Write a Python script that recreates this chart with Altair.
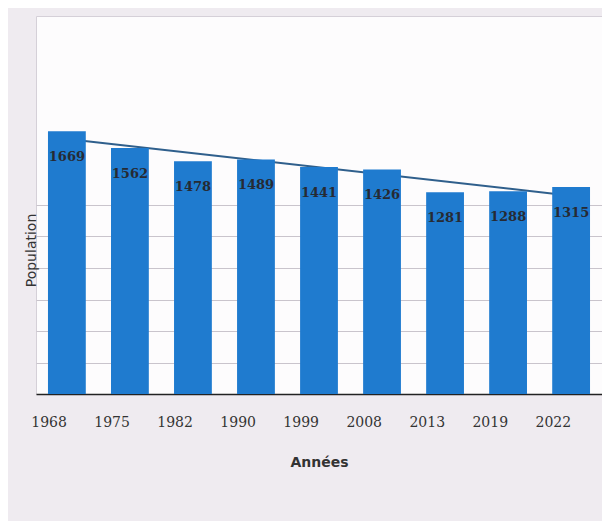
import altair as alt
import pandas as pd

years = ["1968", "1975", "1982", "1990", "1999", "2008", "2013", "2019", "2022"]
population = [1669, 1562, 1478, 1489, 1441, 1426, 1281, 1288, 1315]
grid_values = [200, 400, 600, 800, 1000, 1200]

df = pd.DataFrame({"year": years, "pop": population, "idx": list(range(1, len(years) + 1))})

sans = "DejaVu Sans"
serif = "DejaVu Serif"
xscale = alt.Scale(paddingInner=0.4, paddingOuter=0.19)
xenc = alt.X("year:N", sort=years, scale=xscale,
             axis=alt.Axis(title="Années", labelAngle=0, ticks=False, domainColor="#222",
                           domainWidth=1.5, labelPadding=28, labelFontSize=14,
                           labelColor="#333", labelFont=serif, titleFont=sans,
                           titleFontSize=14, titleFontWeight="bold", titleColor="#333",
                           titlePadding=26))
yscale = alt.Scale(domain=[0, 2400], nice=False)

year_expr = "[" + ",".join("'%s'" % y for y in years) + "][datum.idx - 1]"

trend = alt.Chart(df).transform_regression(
    "idx", "pop", method="linear", extent=[1, len(years)]
).transform_calculate(
    year=year_expr
).mark_line(color="#2f5f8c", strokeWidth=2).encode(
    x=alt.X("year:N", sort=years, scale=xscale),
    y=alt.Y("pop:Q", scale=yscale),
)

bars = alt.Chart(df).mark_bar(color="#1f7bcf").encode(
    x=xenc,
    y=alt.Y("pop:Q", scale=yscale,
            axis=alt.Axis(title="Population", labels=False, ticks=False, domain=False,
                          values=grid_values, grid=True, gridColor="#c9c4cc",
                          gridWidth=1, titleFont=sans, titleFontSize=14,
                          titleColor="#333", titleFontWeight="normal",
                          titleX=-5, titleY=234, titleAngle=-90,
                          titleAlign="center", titleBaseline="middle")),
)

labels = alt.Chart(df).mark_text(dy=26, baseline="middle", font=serif, fontSize=13,
                                 fontWeight="bold", color="#262a33").encode(
    x=alt.X("year:N", sort=years, scale=xscale),
    y=alt.Y("pop:Q", scale=yscale),
    text=alt.Text("pop:Q"),
)

chart = alt.layer(trend, bars, labels).properties(
    width=566, height=378,
    autosize="none",
    padding={"left": 28, "top": 8, "right": 0, "bottom": 127},
    background="#efebf0",
).configure_view(fill="#fdfcfd", stroke="#d5d0d8", strokeWidth=1)

chart.save("out.html", embed_options={"renderer": "svg", "actions": False})
